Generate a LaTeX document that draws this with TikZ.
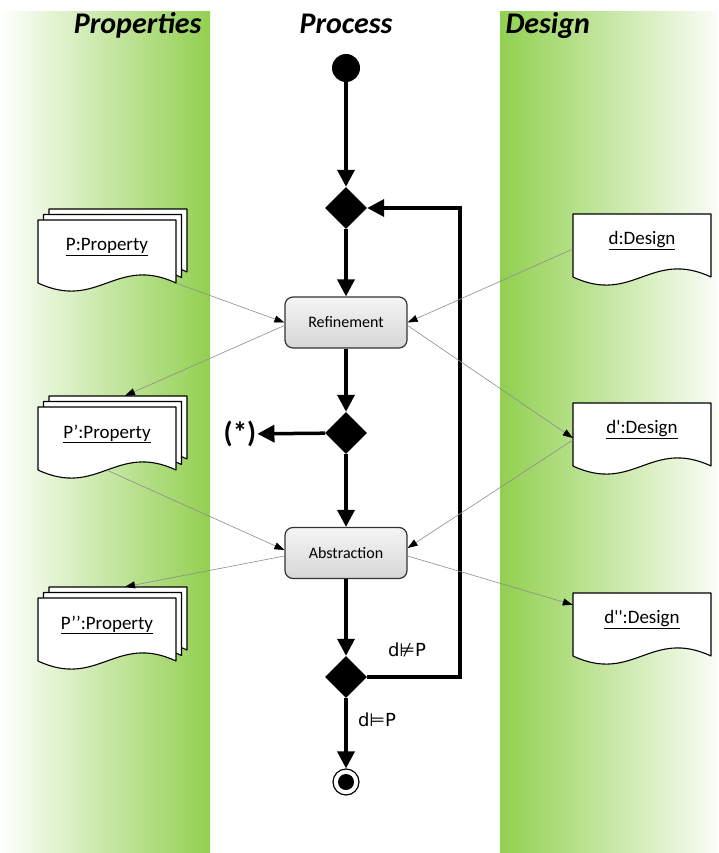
\documentclass[tikz,border=0pt]{standalone}
\usepackage{fontspec}
\setmainfont{Carlito}[Ligatures=TeXOff]
\newfontfamily\symfont{DejaVu Sans}
\usetikzlibrary{arrows.meta,shapes.geometric,calc}
\definecolor{leafgreen}{HTML}{92D050}
\definecolor{wiregray}{HTML}{8C8C8C}

\tikzset{
  flow/.style={line width=3.5pt, -{Triangle[length=17pt,width=17pt]}},
  wire/.style={draw=wiregray, line width=0.6pt, -{Triangle[length=10pt,width=7pt,color=black]}},
  decision/.style={diamond, fill=black, minimum width=42pt, minimum height=42pt, inner sep=0pt},
  action/.style={rectangle, rounded corners=8pt, draw=black!80, line width=1.2pt,
    top color=white!96!black, bottom color=white!84!black,
    minimum width=122pt, minimum height=51pt, font=\fontsize{16}{19}\selectfont},
  lane title/.style={font=\fontsize{30}{35}\selectfont\bfseries\itshape},
  guard/.style={font=\symfont\fontsize{18}{21}\selectfont},
  docoutline/.style={draw=black, line width=1.1pt, fill=white, line join=round},
  frame/.style={rectangle, draw=none, minimum width=138pt, minimum height=70pt, inner sep=0pt},
  doclabel/.style={font=\fontsize{19}{22}\selectfont, inner sep=0pt},
  pics/sheet/.style={code={
    \path[docoutline] (0,0) -- (138,0) -- (138,63)
      .. controls (78,35) and (60,91) .. (0,63) -- cycle;
  }},
  pics/stackdoc/.style={code={
    \pic at (11,-11) {sheet};
    \pic at (5.5,-5.5) {sheet};
    \pic at (0,0) {sheet};
    \node[frame] (-frame) at (69,35) {};
    \node[doclabel] (-label) at (69,27) {\underline{#1}};
  }},
  pics/singledoc/.style={code={
    \pic at (0,0) {sheet};
    \node[frame] (-frame) at (69,35) {};
    \node[doclabel] (-label) at (69,27) {\underline{#1}};
  }},
}

\begin{document}
\begin{tikzpicture}[x=1pt,y=-1pt]
  \useasboundingbox (0,0) rectangle (718,853);

  % swim lanes
  \shade[left color=white, right color=leafgreen] (0,12) rectangle (210,853);
  \shade[left color=leafgreen, right color=white!96!leafgreen] (500,12) rectangle (718,853);

  \node[lane title, anchor=base east] (tprop) at (205,34) {Properties};
  \node[lane title, anchor=base] (tproc) at (346,34) {Process};
  \node[lane title, anchor=base west] (tdes) at (502,34) {Design};

  % control flow
  \node[circle, fill=black, minimum size=28pt, inner sep=0pt] (start) at (346,68) {};
  \node[decision] (merge) at (346,208) {};
  \node[action] (refine) at (346,322.5) {Refinement};
  \node[decision] (branch) at (346,433) {};
  \node[font=\fontsize{29}{34}\selectfont\bfseries, inner sep=1pt] (star) at (240,434) {(*)};
  \node[action] (abstr) at (346,553) {Abstraction};
  \node[decision] (check) at (346,677) {};
  \node[circle, draw=black, fill=white, line width=1.2pt, minimum size=26pt, inner sep=0pt] (stop) at (346,782) {};
  \fill (stop.center) circle (8pt);

  \draw[flow] (start) -- (merge);
  \draw[flow] (merge) -- (refine);
  \draw[flow] (refine) -- (branch);
  \draw[flow] (branch) -- (star);
  \draw[flow] (branch) -- (abstr);
  \draw[flow] (abstr) -- (check);
  \draw[flow] (check) -- (stop);
  \draw[flow] (check.east) -- ++(93,0) |- (merge.east);

  \node[guard] (notsat) at (407,650) {d⊭P};
  \node[guard] (sat) at (377,720) {d⊨P};

  % artefacts
  \pic (P1) at (38,220) {stackdoc={P:Property}};
  \pic (P2) at (38,407) {stackdoc={P’:Property}};
  \pic (P3) at (38,598) {stackdoc={P’’:Property}};
  \pic (D1) at (573,214) {singledoc={d:Design}};
  \pic (D2) at (573,403) {singledoc={d':Design}};
  \pic (D3) at (573,593) {singledoc={d'':Design}};

  % object flows
  \draw[wire] ([yshift=7pt]P1-frame.south east) -- (refine.west);
  \draw[wire] (D1-frame.west) -- (refine.east);
  \draw[wire] ([yshift=-3pt]refine.west) -- ([xshift=18pt,yshift=11pt]P2-frame.north);
  \draw[wire] ([yshift=-3pt]refine.east) -- (D2-frame.west);
  \draw[wire] ([yshift=7pt]P2-frame.south) -- ([yshift=3pt]abstr.west);
  \draw[wire] ([yshift=-2pt]D2-frame.west) -- ([yshift=5pt]abstr.east);
  \draw[wire] ([yshift=-3pt]abstr.west) -- ([xshift=18pt,yshift=11pt]P3-frame.north);
  \draw[wire] ([yshift=-3pt]abstr.east) -- ([yshift=-12pt]D3-frame.north west);
\end{tikzpicture}
\end{document}
